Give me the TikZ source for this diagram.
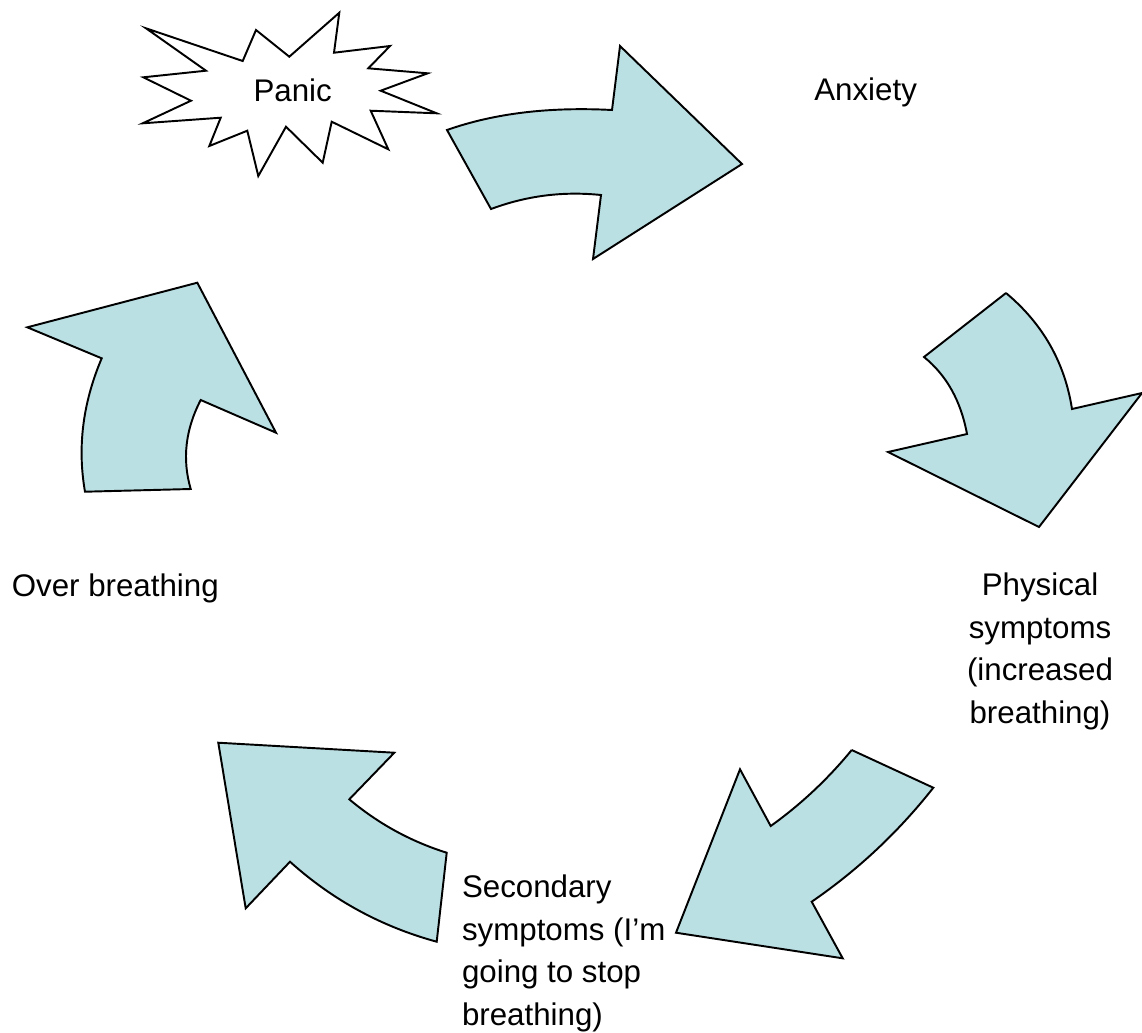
\documentclass[tikz,border=0pt]{standalone}
\usepackage{fontspec}
\setmainfont{Liberation Sans}
\definecolor{arrowfill}{RGB}{187,224,227}
\begin{document}
\begin{tikzpicture}[x=0.02cm, y=-0.02cm,
  bigarrow/.style={draw=black, fill=arrowfill, line width=1.1pt, line join=miter},
  burst/.style={draw=black, fill=white, line width=1.1pt, line join=miter},
  label/.style={inner sep=0pt, font=\fontsize{17.8}{24.1}\selectfont}]
\useasboundingbox (0,0) rectangle (1142,1032);

% Panic starburst
\path[burst] (146,28.3) -- (242.7,61) -- (256,30) -- (289.3,56.7) -- (339.3,12.7)
  -- (334,52.7) -- (390,46) -- (368.3,68.3) -- (427.7,73.3) -- (380.7,90.7)
  -- (436.7,113.3) -- (370.7,110.7) -- (388.3,149.3) -- (331.7,121.7)
  -- (322.7,162.7) -- (286,126.7) -- (258.3,176) -- (247.3,130.7)
  -- (209.3,146) -- (220.7,117.7) -- (142.7,123.3) -- (191,100.7)
  -- (143.3,77.3) -- (206,70.7) -- cycle;

% Panic -> Anxiety
\path[bigarrow] (447,130) .. controls (494.3,113.3) and (549.3,106.7) .. (612,110)
  -- (620,46) -- (742,164) -- (593,259) -- (601,195)
  .. controls (562,191) and (526,196) .. (491,209) -- cycle;

% Anxiety -> Physical symptoms
\path[bigarrow] (1006,293) -- (924,357)
  .. controls (946.6,375.3) and (960.9,401) .. (967,434)
  -- (888,452) -- (1039,527) -- (1142,393) -- (1072,409)
  .. controls (1064.7,362.3) and (1042.7,323.7) .. (1006,293);

% Physical symptoms -> Secondary symptoms
\path[bigarrow] (851.7,750) -- (933.3,787.7)
  .. controls (898.5,831.9) and (858,869.9) .. (811.7,901.7)
  -- (842.7,958.3) -- (676,932.7) -- (740,769.3) -- (770.7,826)
  .. controls (801,804.3) and (828,778.9) .. (851.7,750);

% Secondary symptoms -> Over breathing
\path[bigarrow] (218.3,742.7) -- (394.3,752.7) -- (349.3,799.3)
  .. controls (378.2,823.6) and (410.7,841.4) .. (446.7,852.7)
  -- (436.7,941.7)
  .. controls (381.4,926.6) and (332.5,900) .. (290,861.7)
  -- (245.7,908.3) -- cycle;

% Over breathing -> Panic
\path[bigarrow] (27.3,327.3) -- (197.3,282.7) -- (276,432.7) -- (200.7,400)
  .. controls (185.4,429.5) and (182,459.1) .. (190.7,489)
  -- (85,491.7)
  .. controls (77.2,447.2) and (82.8,402.8) .. (101.7,358.3) -- cycle;

% Labels (multi-line labels are placed by the baseline of their last line)
\node[label, anchor=base] (panic) at (292.7,101.7) {Panic};
\node[label, anchor=base west] (anxiety) at (814,100) {Anxiety};
\node[label, anchor=base west] (over) at (11.5,596) {Over breathing};
\node[label, anchor=base, align=center] (physical) at (1040,723)
  {Physical\\symptoms\\(increased\\breathing)};
\node[label, anchor=base west, align=left] (secondary) at (461.7,1025)
  {Secondary\\symptoms (I’m\\going to stop\\breathing)};
\end{tikzpicture}
\end{document}
